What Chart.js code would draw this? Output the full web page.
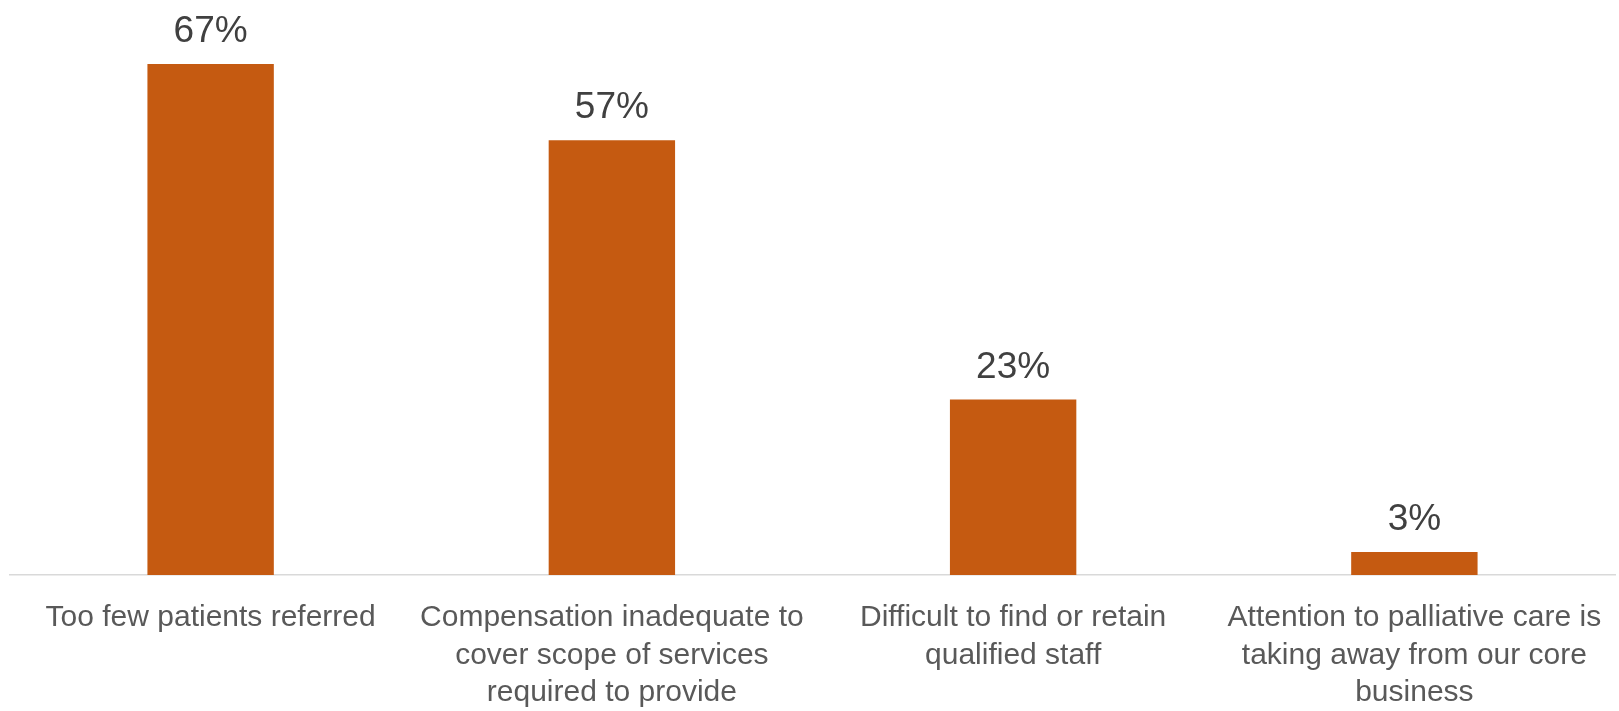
<!DOCTYPE html>
<html>
<head>
<meta charset="utf-8">
<script src="https://cdn.jsdelivr.net/npm/chart.js@4"></script>
<style>
  html, body { margin: 0; padding: 0; background: #fff; }
  #wrap { width: 1619px; height: 711px; }
</style>
</head>
<body>
<div id="wrap"><canvas id="barriers"></canvas></div>
<script>
// Share of respondents citing each barrier (%)
const categories = [
    ['Too few patients referred'],
    ['Compensation inadequate to', 'cover scope of services', 'required to provide'],
    ['Difficult to find or retain', 'qualified staff'],
    ['Attention to palliative care is', 'taking away from our core', 'business'],
];
const shares = [67, 57, 23, 3];

const barColor = '#C55A11';
const fontFamily = '"Liberation Sans", Arial, sans-serif';

// ── Value labels above bars ───────────────────────────────────────────────────

const valueLabels = {
    id: 'valueLabels',
    afterDatasetsDraw(chart) {
        const { ctx } = chart;
        const meta = chart.getDatasetMeta(0);
        ctx.save();
        ctx.font = `37px ${fontFamily}`;
        ctx.fillStyle = '#404040';
        ctx.textAlign = 'center';
        ctx.textBaseline = 'alphabetic';
        meta.data.forEach((bar, i) => {
            ctx.fillText(`${shares[i]}%`, bar.x, bar.y - 22);
        });
        ctx.restore();
    },
};

new Chart(document.getElementById('barriers'), {
    type: 'bar',
    data: {
        labels: categories,
        datasets: [{
            data: shares,
            backgroundColor: barColor,
            borderWidth: 0,
            barPercentage: 0.63,
            categoryPercentage: 0.5,
        }],
    },
    options: {
        responsive: true,
        maintainAspectRatio: false,
        animation: false,
        layout: { padding: { top: 41, left: 10, right: 4, bottom: 0 } },
        plugins: {
            legend: { display: false },
            tooltip: { enabled: false },
        },
        scales: {
            x: {
                grid: { display: false, drawTicks: false },
                border: { display: true, color: '#d9d9d9', width: 1.5 },
                ticks: {
                    color: '#595959',
                    font: { family: fontFamily, size: 30, lineHeight: 1.25 },
                    padding: 24,
                    autoSkip: false,
                    maxRotation: 0,
                    minRotation: 0,
                },
                afterFit(scale) {
                    // labels fit inside their categories; keep the axis full width
                    scale.height = 136;
                    scale.paddingLeft = 0;
                    scale.paddingRight = 0;
                },
            },
            y: {
                display: false,
                min: 0,
                max: 70,
            },
        },
    },
    plugins: [valueLabels],
});
</script>
</body>
</html>
